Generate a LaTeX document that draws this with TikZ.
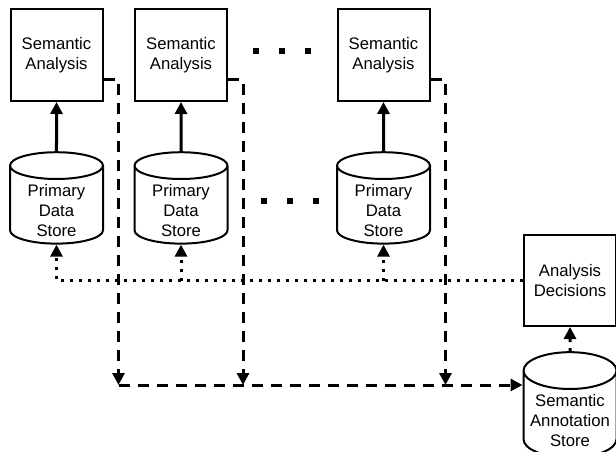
\documentclass[tikz,border=0pt]{standalone}
\usepackage{fontspec}
\setmainfont{Liberation Sans}
\usetikzlibrary{calc,positioning,arrows.meta,shapes.geometric}

% text of a store sits in the body, below the lid
\newcommand{\storetext}[1]{\raisebox{-5.5pt}[\dimexpr\height-4.5pt\relax][\dimexpr\depth-4.5pt\relax]{%
    \begin{tabular}{@{}c@{}}#1\end{tabular}}}

\begin{document}
\begin{tikzpicture}[x=1pt,y=-1pt,
    every node/.style={font=\fontsize{16.7pt}{20pt}\selectfont},
    box/.style={draw,line width=2pt,rectangle,minimum width=92pt,minimum height=92pt,align=center,inner sep=1pt},
    store/.style={draw,line width=2pt,cylinder,shape border rotate=90,aspect=0.45,%
      minimum width=93pt,minimum height=76pt,inner sep=1pt},
    tip/.style={-{Triangle[length=12pt,width=12pt]}},
    feed/.style={line width=3pt,tip},
    annot/.style={line width=3pt,dash pattern=on 11pt off 8pt},
    decide/.style={line width=3pt,dash pattern=on 3pt off 6pt},
    gap/.style={fill=black,rectangle,minimum size=6pt,inner sep=0pt}]

  \useasboundingbox (0,0) rectangle (616,452);

  \foreach \n/\x in {1/56.5,2/181,3/383.5}
  {
    \node [box] at (\x,55) (sa_\n) {Semantic\\Analysis};
    \node [store] at (\x,206.5) (pds_\n) {\storetext{Primary\\Data\\Store}};
    \coordinate (drop_\n) at ($(sa_\n.south east)+(15,283)$);
    \draw [feed] (pds_\n) -- (sa_\n);
  }

  % the gaps between the analysis units
  \foreach \i/\x in {1/256,2/282,3/308}
    \node [gap] at (\x,51) (dot_top_\i) {};
  \foreach \i/\x in {1/263.5,2/289.5,3/316}
    \node [gap] at (\x,201) (dot_low_\i) {};

  \node [box,minimum height=91pt] at (570,280.5) (ad) {Analysis\\Decisions};
  \node [store] at (570,416.5) (sas) {\storetext{Semantic\\Annotation\\Store}};

  % annotations down to the store
  \foreach \n in {1,2,3}
  {
    \draw [annot,tip] ([yshift=22pt]sa_\n.south east) -| (drop_\n);
  }
  \draw [annot,tip] (drop_1) -- (drop_1 -| sas.west);

  % decisions back to the primary stores
  \draw [decide,tip] (ad.west) -| (pds_1);
  \draw [decide,tip] (ad.west -| pds_2) -- (pds_2);
  \draw [decide,tip] (ad.west -| pds_3) -- (pds_3);
  \draw [decide,tip] (sas) -- (ad);

\end{tikzpicture}
\end{document}
